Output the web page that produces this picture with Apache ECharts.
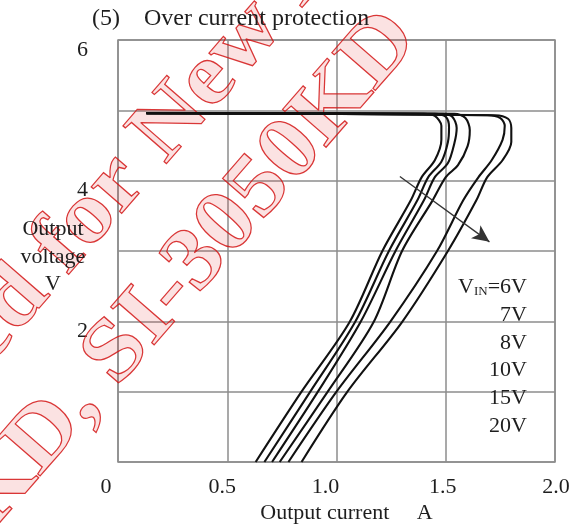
<!DOCTYPE html>
<html>
<head>
<meta charset="utf-8">
<script src="https://cdn.jsdelivr.net/npm/echarts@6.0.0/dist/echarts.min.js"></script>
<style>
  html, body { margin: 0; padding: 0; background: #fff; }
  #chart { width: 578px; height: 531px; }
</style>
</head>
<body>
<div id="chart"></div>
<script>
// Output voltage (V) versus output current (A) for each input voltage.
const vinLabels = ['6V', '7V', '8V', '10V', '15V', '20V'];

const vin6V  = [[0.13, 4.96], [1.40, 4.95], [1.45, 4.92], [1.48, 4.78], [1.48, 4.58], [1.45, 4.29], [1.39, 4.05], [1.34, 3.72], [1.21, 3.00], [1.06, 1.99], [0.84, 1.00], [0.63, 0]];
const vin7V  = [[0.13, 4.96], [1.45, 4.95], [1.50, 4.91], [1.515, 4.76], [1.51, 4.55], [1.48, 4.27], [1.42, 4.05], [1.37, 3.72], [1.24, 3.00], [1.085, 1.99], [0.88, 1.00], [0.67, 0]];
const vin8V  = [[0.13, 4.96], [1.49, 4.95], [1.53, 4.91], [1.55, 4.75], [1.54, 4.54], [1.51, 4.25], [1.45, 4.05], [1.40, 3.72], [1.27, 3.00], [1.11, 1.99], [0.915, 1.00], [0.705, 0]];
const vin10V = [[0.13, 4.96], [1.54, 4.95], [1.59, 4.89], [1.61, 4.72], [1.60, 4.49], [1.556, 4.22], [1.50, 4.05], [1.44, 3.72], [1.30, 3.00], [1.17, 1.99], [0.96, 1.00], [0.74, 0]];
const vin15V = [[0.13, 4.96], [1.69, 4.93], [1.75, 4.89], [1.77, 4.78], [1.76, 4.58], [1.71, 4.29], [1.65, 4.05], [1.58, 3.72], [1.46, 3.00], [1.245, 1.99], [1.00, 1.00], [0.78, 0]];
const vin20V = [[0.13, 4.96], [1.725, 4.93], [1.785, 4.88], [1.80, 4.75], [1.80, 4.55], [1.76, 4.29], [1.69, 4.05], [1.64, 3.72], [1.51, 3.00], [1.30, 1.99], [1.05, 1.00], [0.84, 0]];
const curves = [vin6V, vin7V, vin8V, vin10V, vin15V, vin20V];

// Arrow showing the direction of increasing input voltage.
const arrowStart = [1.29, 4.06];
const arrowEnd   = [1.70, 3.13];

// Axis ranges and the tick values that carry labels.
const xRange = [0, 2.0];
const yRange = [0, 6];
const yLabelled = [2, 4, 6];

// Hand-placed nudges (px) for the current-axis tick labels.
const xLabelNudge = { '0': -12, '0.5': -5, '1': -11, '1.5': -3, '2': 1 };

const serif = "'Liberation Serif', 'DejaVu Serif', serif";
const ink = '#1e1e1e';
const gridGray = '#8c8c8c';
const fs = 22;

const chart = echarts.init(document.getElementById('chart'), null, { renderer: 'canvas' });

const series = curves.map((pts, i) => ({
  name: vinLabels[i],
  type: 'line',
  data: pts,
  showSymbol: false,
  smooth: 0.3,
  lineStyle: { color: '#111', width: 2.1 },
  z: 3,
  markLine: i === 0 ? {
    silent: true,
    symbol: ['none', 'arrow'],
    symbolSize: [12, 17],
    label: { show: false },
    lineStyle: { color: '#333', width: 1.3, type: 'solid' },
    data: [[{ coord: arrowStart }, { coord: arrowEnd }]]
  } : undefined
}));

// Right-hand key listing the input voltages, one per line.
const keyX = 527, keyTop = 287, keyStep = 27.9;
const keyTexts = vinLabels.map((lab, i) => ({
  type: 'text',
  x: keyX,
  y: keyTop + i * keyStep,
  z: 5,
  style: {
    text: i === 0 ? 'V{sub|IN}=' + lab : lab,
    align: 'right',
    verticalAlign: 'middle',
    font: fs + 'px ' + serif,
    fill: ink,
    rich: {
      sub: { fontSize: 13, fontFamily: serif, verticalAlign: 'bottom', padding: [9, 0, 0, 0], fill: ink, color: ink }
    }
  }
}));

// Voltage-axis caption, stacked on three centred lines left of the plot.
const yCaption = {
  type: 'text', x: 53, y: 257, z: 5,
  style: {
    text: 'Output\nvoltage\nV',
    align: 'center', verticalAlign: 'middle',
    font: fs + 'px ' + serif, lineHeight: 27.5, fill: ink
  }
};

// Diagonal datasheet stamp across the plot.
const stampStyle = {
  font: 'bold 88px ' + serif,
  fill: 'rgba(225, 60, 60, 0.15)',
  stroke: 'rgba(210, 20, 20, 0.85)',
  lineWidth: 1.2
};
const stampAngle = 49 * Math.PI / 180;
const stampStretch = 1.1;
function stampText(text, x, y, align) {
  return {
    type: 'text', x: x, y: y, rotation: stampAngle, scaleX: stampStretch,
    z: 1, silent: true,
    style: Object.assign({ text: text, align: align, verticalAlign: 'middle' }, stampStyle)
  };
}
const stamp = [
  stampText('Not Recommended for', 131, 168, 'right'),
  stampText('New Design', 148, 150, 'left'),
  stampText('SI-3033KD, SI-3050KD', 403, 24, 'right')
];

chart.setOption({
  animation: false,
  backgroundColor: '#fff',
  title: {
    text: '(5)    Over current protection',
    left: 87,
    top: 2,
    textStyle: { fontFamily: serif, fontSize: 24, fontWeight: 'normal', color: ink }
  },
  grid: {
    left: 118, right: 23, top: 40, bottom: 69,
    show: true, borderColor: gridGray, borderWidth: 1.5, backgroundColor: 'transparent'
  },
  xAxis: {
    type: 'value',
    min: xRange[0], max: xRange[1], interval: 0.5,
    axisLine: { show: false },
    axisTick: { show: false },
    splitLine: { show: true, lineStyle: { color: gridGray, width: 1.5 } },
    axisLabel: {
      margin: 14,
      fontFamily: serif, fontSize: fs, color: ink,
      formatter: v => {
        const key = String(v);
        const txt = v === 0 ? '0' : v.toFixed(1);
        const n = xLabelNudge[key] || 0;
        return '{' + (n < 0 ? 'l' : 'r') + Math.abs(n) + '|' + txt + '}';
      },
      rich: Object.keys(xLabelNudge).reduce((acc, k) => {
        const n = xLabelNudge[k];
        acc[(n < 0 ? 'l' : 'r') + Math.abs(n)] = {
          fontFamily: serif, fontSize: fs, color: ink,
          padding: n < 0 ? [0, -2 * n, 0, 0] : [0, 0, 0, 2 * n]
        };
        return acc;
      }, {})
    },
    name: 'Output current     A',
    nameLocation: 'middle',
    nameGap: 40,
    nameMoveOverlap: false,
    nameTextStyle: { fontFamily: serif, fontSize: fs, color: ink, padding: [0, 0, 0, 20] }
  },
  yAxis: {
    type: 'value',
    min: yRange[0], max: yRange[1], interval: 1,
    axisLine: { show: false },
    axisTick: { show: false },
    splitLine: { show: true, lineStyle: { color: gridGray, width: 1.5 } },
    axisLabel: {
      margin: 30,
      fontFamily: serif, fontSize: fs, color: ink,
      verticalAlign: 'top', lineHeight: 20,
      formatter: v => (yLabelled.indexOf(v) >= 0 ? String(v) : '')
    }
  },
  graphic: stamp.concat(keyTexts, [yCaption]),
  series: series
});
</script>
</body>
</html>
